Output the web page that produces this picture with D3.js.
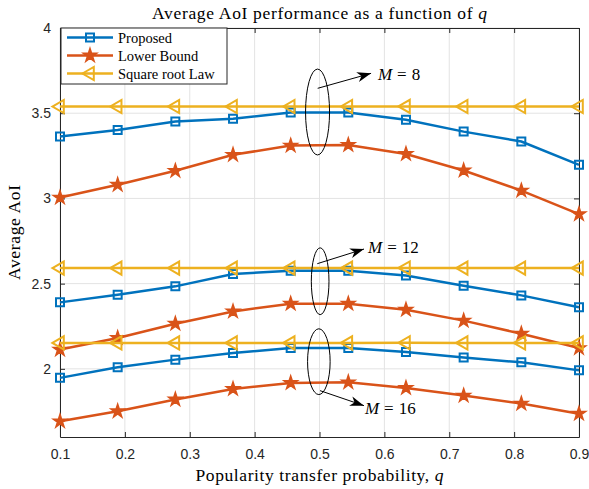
<!DOCTYPE html>
<html>
<head>
<meta charset="utf-8">
<script src="https://cdn.jsdelivr.net/npm/d3@7"></script>
<style>
  body { margin: 0; background: #fff; }
  .serif { font-family: "Liberation Serif", "DejaVu Serif", serif; }
</style>
</head>
<body>
<div id="chart"></div>
<script>
// Datos
const qValues = [0.1, 0.1889, 0.2778, 0.3667, 0.4556, 0.5444, 0.6333, 0.7222, 0.8111, 0.9];
const xTicks = [0.1, 0.2, 0.3, 0.4, 0.5, 0.6, 0.7, 0.8, 0.9];
const yTicks = [2, 2.5, 3, 3.5, 4];

const proposedM8  = [3.363, 3.402, 3.451, 3.467, 3.504, 3.504, 3.461, 3.392, 3.334, 3.197];
const lowerM8     = [3.005, 3.080, 3.162, 3.256, 3.310, 3.314, 3.261, 3.164, 3.046, 2.908];
const sqrtM8      = [3.539, 3.539, 3.539, 3.539, 3.539, 3.539, 3.540, 3.539, 3.539, 3.539];

const proposedM12 = [2.390, 2.435, 2.484, 2.556, 2.576, 2.576, 2.548, 2.488, 2.431, 2.361];
const lowerM12    = [2.113, 2.181, 2.265, 2.337, 2.382, 2.382, 2.347, 2.283, 2.206, 2.122];
const sqrtM12     = [2.591, 2.591, 2.591, 2.591, 2.591, 2.591, 2.592, 2.591, 2.591, 2.591];

const proposedM16 = [1.947, 2.009, 2.054, 2.093, 2.122, 2.122, 2.099, 2.067, 2.038, 1.991];
const lowerM16    = [1.692, 1.751, 1.820, 1.882, 1.917, 1.921, 1.888, 1.843, 1.796, 1.737];
const sqrtM16     = [2.152, 2.152, 2.152, 2.152, 2.152, 2.152, 2.153, 2.152, 2.152, 2.152];

const seriesNames = ["Proposed", "Lower Bound", "Square root Law"];

// Anotaciones (en unidades de los datos)
const annotations = [
  { label: "8",  cx: 0.497, cy: 3.507, rx: 0.0185, ry: 0.252, from: [0.4972, 3.646], to: [0.5795, 3.734], text: [0.590, 3.730] },
  { label: "12", cx: 0.501, cy: 2.514, rx: 0.0136, ry: 0.196, from: [0.4966, 2.617], to: [0.5686, 2.703], text: [0.5748, 2.712] },
  { label: "16", cx: 0.499, cy: 2.042, rx: 0.0174, ry: 0.193, from: [0.5008, 1.872], to: [0.5686, 1.784], text: [0.570, 1.767] }
];

const W = 589, H = 489;
const margin = { top: 28, right: 10, bottom: 52, left: 60 };
const width = W - margin.left - margin.right;
const height = H - margin.top - margin.bottom;

const colors = ["#0072BD", "#D95319", "#EDB120"];
const axisColor = "#262626";

const svg = d3.select("#chart").append("svg")
  .attr("width", W).attr("height", H);

const g = svg.append("g")
  .attr("transform", `translate(${margin.left},${margin.top})`);

const x = d3.scaleLinear().domain([0.1, 0.9]).range([0, width]);
const y = d3.scaleLinear().domain([1.6, 4]).range([height, 0]);

// Rejilla
g.selectAll("line.vgrid").data(xTicks).enter().append("line")
  .attr("x1", d => x(d)).attr("x2", d => x(d))
  .attr("y1", 0).attr("y2", height)
  .attr("stroke", "#e3e3e3").attr("stroke-width", 1);
g.selectAll("line.hgrid").data(yTicks).enter().append("line")
  .attr("x1", 0).attr("x2", width)
  .attr("y1", d => y(d)).attr("y2", d => y(d))
  .attr("stroke", "#e3e3e3").attr("stroke-width", 1);

// Ejes
const xAxis = g.append("g").attr("transform", `translate(0,${height})`)
  .call(d3.axisBottom(x).tickValues(xTicks).tickFormat(d3.format(".1f")).tickSizeInner(-5).tickSizeOuter(0).tickPadding(12));
const yAxis = g.append("g")
  .call(d3.axisLeft(y).tickValues(yTicks).tickFormat(d => d).tickSizeInner(-5).tickSizeOuter(0).tickPadding(9));
const xTop = g.append("g")
  .call(d3.axisTop(x).tickValues(xTicks).tickFormat("").tickSizeInner(-5).tickSizeOuter(0));
const yRight = g.append("g").attr("transform", `translate(${width},0)`)
  .call(d3.axisRight(y).tickValues(yTicks).tickFormat("").tickSizeInner(-5).tickSizeOuter(0));
[xAxis, yAxis, xTop, yRight].forEach(a => {
  a.attr("font-size", null).attr("font-family", null);
  a.select(".domain").attr("stroke", axisColor);
  a.selectAll(".tick line").attr("stroke", axisColor);
  a.selectAll(".tick text")
    .attr("fill", axisColor)
    .style("font-family", "'Liberation Sans', Arial, sans-serif")
    .style("font-size", "14px");
});

// Series
const line = d3.line().x((d, i) => x(qValues[i])).y(d => y(d));
const groups = [
  [proposedM8, lowerM8, sqrtM8],
  [proposedM12, lowerM12, sqrtM12],
  [proposedM16, lowerM16, sqrtM16]
];

const symbols = [
  { type: d3.symbolSquare, size: 64, fill: false, rotate: 0, sw: 2 },
  { type: d3.symbolStar, size: 55, fill: true, rotate: 0, sw: 1.5 },
  { type: d3.symbolTriangle, size: 75, fill: false, rotate: -90, sw: 2 }
];

function drawMarker(sel, k, px, py) {
  const s = symbols[k];
  sel.append("path")
    .attr("d", d3.symbol().type(s.type).size(s.size)())
    .attr("transform", `translate(${px},${py}) rotate(${s.rotate})`)
    .attr("fill", s.fill ? colors[k] : "none")
    .attr("stroke", colors[k])
    .attr("stroke-linejoin", "miter")
    .attr("stroke-width", s.sw);
}

groups.forEach(grp => {
  grp.forEach((vals, k) => {
    g.append("path").datum(vals)
      .attr("d", line)
      .attr("fill", "none")
      .attr("stroke", colors[k])
      .attr("stroke-width", 2.5);
    vals.forEach((v, i) => drawMarker(g, k, x(qValues[i]), y(v)));
  });
});

// Anotaciones
svg.append("defs").append("marker")
  .attr("id", "arrow").attr("viewBox", "0 0 14 10")
  .attr("refX", 14).attr("refY", 5)
  .attr("markerWidth", 14).attr("markerHeight", 10)
  .attr("markerUnits", "userSpaceOnUse")
  .attr("orient", "auto")
  .append("path").attr("d", "M0,0 L14,5 L0,10 L4,5 Z").attr("fill", "#000");

annotations.forEach(a => {
  g.append("ellipse")
    .attr("cx", x(a.cx)).attr("cy", y(a.cy))
    .attr("rx", x(a.cx + a.rx) - x(a.cx))
    .attr("ry", y(a.cy - a.ry) - y(a.cy))
    .attr("fill", "none").attr("stroke", "#000").attr("stroke-width", 1);
  g.append("line")
    .attr("x1", x(a.from[0])).attr("y1", y(a.from[1]))
    .attr("x2", x(a.to[0])).attr("y2", y(a.to[1]))
    .attr("stroke", "#000").attr("stroke-width", 1)
    .attr("marker-end", "url(#arrow)");
  const t = g.append("text").attr("class", "serif")
    .attr("x", x(a.text[0])).attr("y", y(a.text[1]))
    .attr("dy", "0.35em")
    .style("font-size", "17px");
  t.append("tspan").style("font-style", "italic").text("M");
  t.append("tspan").attr("dx", 5).text("=");
  t.append("tspan").attr("dx", 5).text(a.label);
});

// Leyenda
const legend = g.append("g");
legend.append("rect")
  .attr("x", 1).attr("y", 0).attr("width", 166).attr("height", 56)
  .attr("fill", "#fff").attr("stroke", axisColor).attr("stroke-width", 1);
seriesNames.forEach((name, k) => {
  const ly = 9.5 + k * 18;
  legend.append("line")
    .attr("x1", 7).attr("x2", 53).attr("y1", ly).attr("y2", ly)
    .attr("stroke", colors[k]).attr("stroke-width", 2.5);
  drawMarker(legend, k, 30, ly);
  legend.append("text").attr("class", "serif")
    .attr("x", 58).attr("y", ly).attr("dy", "0.35em")
    .style("font-size", "14.5px").attr("fill", "#000")
    .text(name);
});

// Titulo y etiquetas
const title = svg.append("text").attr("class", "serif")
  .attr("x", margin.left + width / 2).attr("y", 19)
  .attr("text-anchor", "middle")
  .style("font-size", "17.5px")
  .attr("textLength", 335).attr("lengthAdjust", "spacing");
title.append("tspan").text("Average AoI performance as a function of ");
title.append("tspan").style("font-style", "italic").text("q");

const xlabel = svg.append("text").attr("class", "serif")
  .attr("x", margin.left + width / 2).attr("y", 481)
  .attr("text-anchor", "middle")
  .style("font-size", "17.5px")
  .attr("textLength", 248).attr("lengthAdjust", "spacing");
xlabel.append("tspan").text("Popularity transfer probability, ");
xlabel.append("tspan").style("font-style", "italic").text("q");

svg.append("text").attr("class", "serif")
  .attr("transform", `translate(20,${margin.top + height / 2}) rotate(-90)`)
  .attr("text-anchor", "middle")
  .style("font-size", "17.5px")
  .attr("textLength", 95).attr("lengthAdjust", "spacing")
  .text("Average AoI");
</script>
</body>
</html>
